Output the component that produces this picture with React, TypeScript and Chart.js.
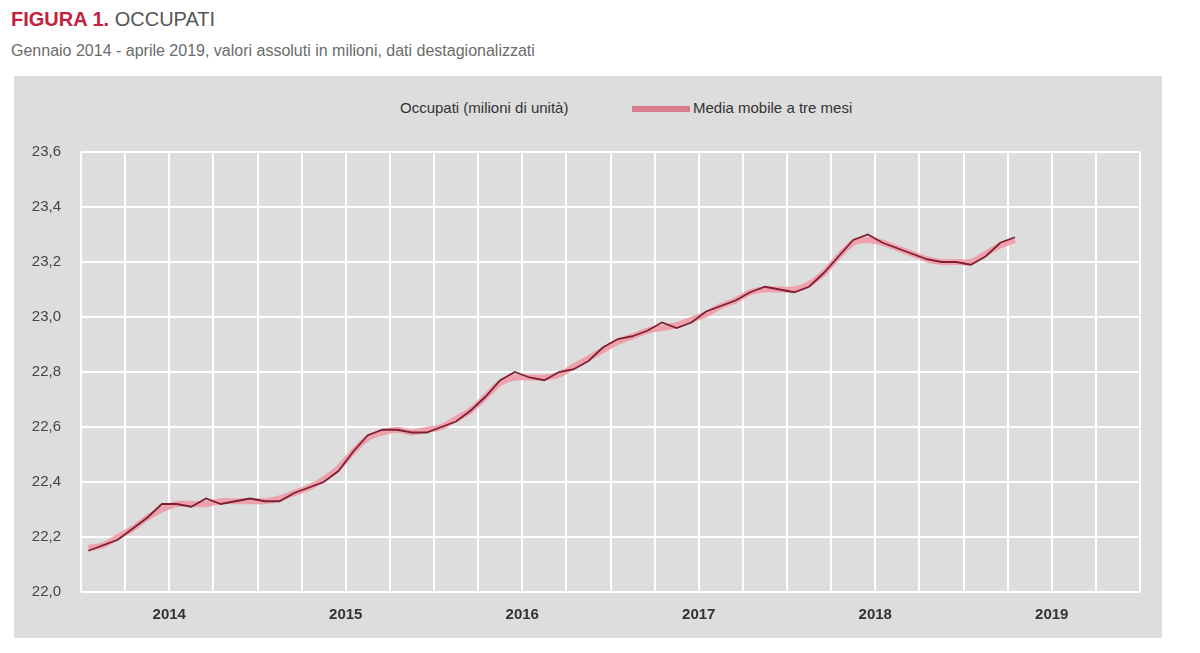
import React, { useEffect, useRef } from "react";
import { Chart, registerables } from "chart.js";

Chart.register(...registerables);

// Jan 2014 .. Apr 2019, milioni di unità (dati destagionalizzati)
const occupati: number[] = [
  22.15, 22.17, 22.19, 22.23, 22.27, 22.32, 22.32, 22.31, 22.34, 22.32, 22.33, 22.34,
  22.33, 22.33, 22.36, 22.38, 22.40, 22.44, 22.51, 22.57, 22.59, 22.59, 22.58, 22.58,
  22.60, 22.62, 22.66, 22.71, 22.77, 22.80, 22.78, 22.77, 22.80, 22.81, 22.84, 22.89,
  22.92, 22.93, 22.95, 22.98, 22.96, 22.98, 23.02, 23.04, 23.06, 23.09, 23.11, 23.10,
  23.09, 23.11, 23.16, 23.22, 23.28, 23.30, 23.27, 23.25, 23.23, 23.21, 23.20, 23.20,
  23.19, 23.22, 23.27, 23.29,
];

const mediaMobile: number[] = [
  22.16, 22.17, 22.20, 22.23, 22.27, 22.30, 22.32, 22.32, 22.32, 22.33, 22.33, 22.33,
  22.33, 22.34, 22.36, 22.38, 22.41, 22.45, 22.51, 22.56, 22.58, 22.59, 22.58, 22.59,
  22.60, 22.63, 22.66, 22.71, 22.76, 22.78, 22.78, 22.78, 22.79, 22.82, 22.85, 22.88,
  22.91, 22.93, 22.95, 22.96, 22.97, 22.99, 23.01, 23.04, 23.06, 23.09, 23.10, 23.10,
  23.10, 23.12, 23.16, 23.22, 23.27, 23.28, 23.27, 23.25, 23.23, 23.21, 23.20, 23.20,
  23.20, 23.23, 23.26, 23.28,
];

const years: string[] = ["2014", "2015", "2016", "2017", "2018", "2019"];

const FONT = "'Liberation Sans', Arial, sans-serif";

const App: React.FC = () => {
  const ref = useRef<HTMLCanvasElement>(null);
  const chart = useRef<Chart | null>(null);

  useEffect(() => {
    if (!ref.current) return;
    chart.current?.destroy();
    chart.current = new Chart(ref.current, {
      type: "line",
      data: {
        datasets: [
          {
            label: "Occupati (milioni di unità)",
            data: occupati.map((v, i) => ({ x: i + 0.5, y: v })),
            borderColor: "#7d1f31",
            borderWidth: 1.8,
            pointRadius: 0,
            tension: 0,
            order: 1,
          },
          {
            label: "Media mobile a tre mesi",
            data: mediaMobile.map((v, i) => ({ x: i + 0.5, y: v })),
            borderColor: "rgba(240,150,165,0.85)",
            borderWidth: 6,
            pointRadius: 0,
            tension: 0.3,
            order: 2,
          },
        ],
      },
      options: {
        responsive: true, maintainAspectRatio: false,
        animation: false,
        layout: { padding: { top: 76, right: 22, bottom: 0, left: 0 } },
        plugins: { legend: { display: false }, tooltip: { enabled: false } },
        scales: {
          x: {
            type: "linear", min: 0, max: years.length * 12,
            border: { display: false },
            grid: { color: "#ffffff", lineWidth: 2, drawTicks: false },
            ticks: {
              stepSize: 3, autoSkip: false, padding: 14, maxRotation: 0,
              color: "#333", font: { family: FONT, size: 15, weight: "bold" },
              callback: v => (Number(v) % 12 === 6 ? years[Math.floor(Number(v) / 12)] : ""),
            },
          },
          y: {
            min: 22.0, max: 23.6,
            border: { display: false },
            afterFit: s => { s.width = 67; },
            grid: { color: "#ffffff", lineWidth: 2, drawTicks: false },
            ticks: {
              stepSize: 0.2, padding: 20,
              color: "#444", font: { family: FONT, size: 15 },
              callback: v => Number(v).toFixed(1).replace(".", ","),
            },
          },
        },
      },
    });
    return () => chart.current?.destroy();
  }, []);

  return (
    <div style={{ position: "absolute", left: 0, top: 0, width: 1200, height: 653, background: "#fff", fontFamily: FONT, overflow: "hidden" }}>
      <div style={{ position: "absolute", left: 11, top: 8, fontSize: 20, whiteSpace: "nowrap" }}>
        <span style={{ color: "#c4213c", fontWeight: "bold" }}>FIGURA 1. </span>
        <span style={{ color: "#555" }}>OCCUPATI</span>
      </div>
      <div style={{ position: "absolute", left: 11, top: 42, fontSize: 16, color: "#6b6b6b", whiteSpace: "nowrap" }}>
        Gennaio 2014 - aprile 2019, valori assoluti in milioni, dati destagionalizzati
      </div>

      {/* grey panel */}
      <div style={{ position: "absolute", left: 14, top: 76, width: 1148, height: 562, background: "#dddddd" }}>
        {/* legend */}
        <div style={{ position: "absolute", left: 386, top: 23, fontSize: 15, color: "#333", whiteSpace: "nowrap" }}>
          Occupati (milioni di unità)
        </div>
        <div style={{ position: "absolute", left: 618, top: 30, width: 58, height: 6, background: "#d97d8c" }} />
        <div style={{ position: "absolute", left: 679, top: 23, fontSize: 15, color: "#333", whiteSpace: "nowrap" }}>
          Media mobile a tre mesi
        </div>
        <div style={{ position: "absolute", left: 0, top: 0, width: 1148, height: 562 }}>
          <canvas ref={ref} />
        </div>
      </div>
    </div>
  );
};

export default App;
